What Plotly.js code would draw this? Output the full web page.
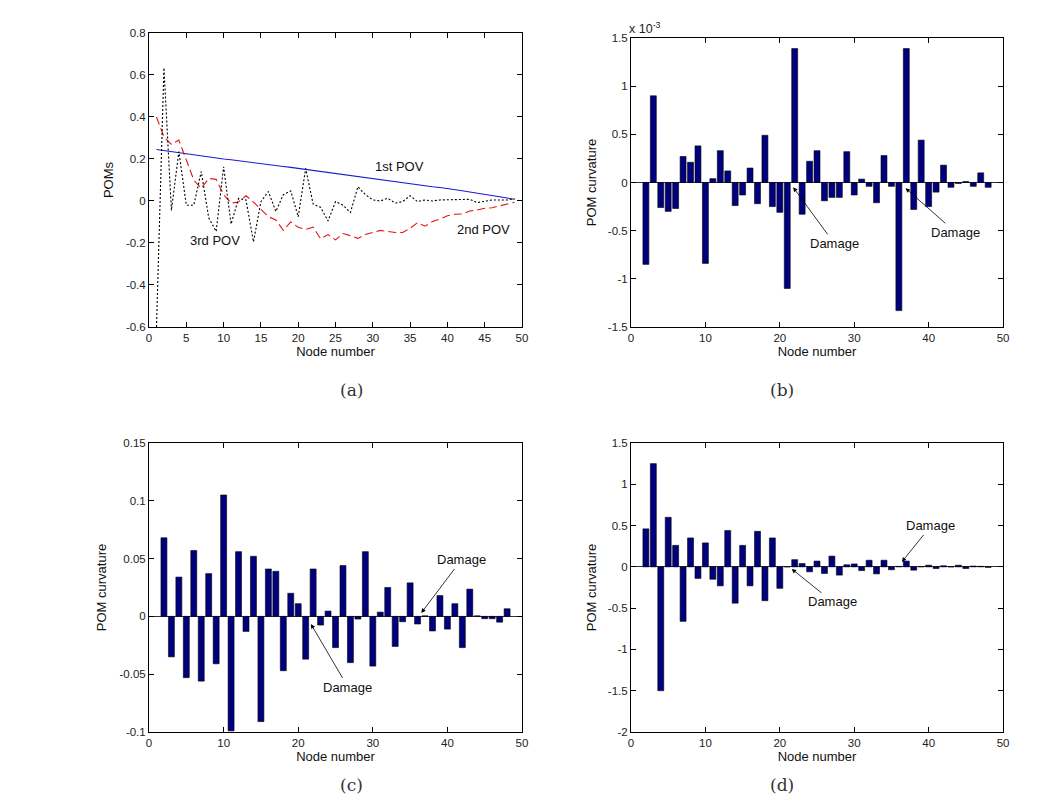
<!DOCTYPE html>
<html>
<head>
<meta charset="utf-8">
<script src="https://cdn.plot.ly/plotly-3.0.1.min.js"></script>
<style>html,body{margin:0;padding:0;background:#fff;}#chart{width:1048px;height:810px;}</style>
</head>
<body>
<div id="chart"></div>
<script>
// ---------- Panel (a): POMs ----------
const nodesA = [1,2,3,4,5,6,7,8,9,10,11,12,13,14,15,16,17,18,19,20,21,22,23,24,25,26,27,28,29,30,31,32,33,34,35,36,37,38,39,40,41,42,43,44,45,46,47,48,49];
const pov1 = [0.245,0.240,0.235,0.228,0.222,0.218,0.214,0.209,0.205,0.200,0.196,0.191,0.187,0.182,0.178,0.173,0.169,0.164,0.160,0.155,0.150,0.145,0.140,0.135,0.130,0.126,0.121,0.117,0.112,0.108,0.103,0.097,0.092,0.086,0.081,0.077,0.073,0.068,0.064,0.060,0.054,0.049,0.043,0.038,0.032,0.026,0.020,0.014,0.008];
const pov2 = [0.40,0.305,0.27,0.29,0.195,0.10,0.06,0.107,0.103,0.03,-0.01,-0.005,0.025,-0.005,-0.04,-0.075,-0.09,-0.14,-0.10,-0.125,-0.135,-0.125,-0.18,-0.16,-0.185,-0.155,-0.165,-0.178,-0.16,-0.15,-0.14,-0.145,-0.15,-0.15,-0.13,-0.103,-0.12,-0.098,-0.086,-0.07,-0.063,-0.062,-0.048,-0.043,-0.035,-0.032,-0.024,-0.014,-0.006];
const pov3 = [-0.6,0.634,-0.045,0.235,-0.02,-0.02,0.14,-0.08,-0.145,0.163,-0.11,0.012,0.005,-0.195,-0.003,0.045,-0.05,0.03,0.048,-0.075,0.155,-0.015,-0.03,-0.095,-0.003,-0.02,-0.055,0.068,0.03,0.005,0,0.013,-0.01,-0.003,0.025,-0.003,0.005,0,0.005,0.005,0.005,0.005,0.008,-0.008,0,0.005,0.005,0.005,0.01];

// ---------- Bar panels: nodes 2..48 ----------
const nodesBar = [2,3,4,5,6,7,8,9,10,11,12,13,14,15,16,17,18,19,20,21,22,23,24,25,26,27,28,29,30,31,32,33,34,35,36,37,38,39,40,41,42,43,44,45,46,47,48];
// (b) values in units of 1e-3
const curvB = [-0.85,0.9,-0.26,-0.3,-0.27,0.27,0.21,0.38,-0.84,0.04,0.33,0.12,-0.24,-0.13,0.15,-0.22,0.49,-0.25,-0.31,-1.1,1.39,-0.33,0.22,0.33,-0.19,-0.155,-0.155,0.32,-0.13,0.035,-0.04,-0.21,0.28,-0.04,-1.33,1.39,-0.28,0.44,-0.25,-0.1,0.18,-0.05,-0.01,0.01,-0.04,0.1,-0.05];
const curvC = [0.068,-0.035,0.034,-0.053,0.057,-0.056,0.037,-0.041,0.105,-0.099,0.056,-0.013,0.052,-0.091,0.041,0.039,-0.047,0.02,0.011,-0.037,0.041,-0.0075,0.0046,-0.027,0.044,-0.04,-0.0023,0.056,-0.043,0.0037,0.025,-0.026,-0.0046,0.029,-0.0066,0.0005,-0.0126,0.018,-0.011,0.011,-0.027,0.0236,0.0005,-0.002,-0.002,-0.005,0.0066];
const curvD = [0.46,1.25,-1.5,0.6,0.26,-0.66,0.35,-0.14,0.29,-0.15,-0.23,0.44,-0.44,0.26,-0.23,0.43,-0.41,0.35,-0.26,0,0.087,0.04,-0.06,0.07,-0.08,0.13,-0.1,0.025,0.035,-0.045,0.08,-0.085,0.08,-0.035,0.005,0.07,-0.04,0.003,0.02,-0.02,0.013,0,0.02,-0.02,0.01,0.006,-0.006];

// ---------- Tick labels ----------
const xTicksA = [0,5,10,15,20,25,30,35,40,45,50];
const xTicksBar = [0,10,20,30,40,50];
const yTicksA = [-0.6,-0.4,-0.2,0,0.2,0.4,0.6,0.8];
const yTextA = ['-0.6','-0.4','-0.2','0','0.2','0.4','0.6','0.8'];
const yTicksB = [-1.5,-1,-0.5,0,0.5,1,1.5];
const yTextB = ['-1.5','-1','-0.5','0','0.5','1','1.5'];
const yTicksC = [-0.1,-0.05,0,0.05,0.1,0.15];
const yTextC = ['-0.1','-0.05','0','0.05','0.1','0.15'];
const yTicksD = [-2,-1.5,-1,-0.5,0,0.5,1,1.5];
const yTextD = ['-2','-1.5','-1','-0.5','0','0.5','1','1.5'];

const lineLabels = ['1st POV','2nd POV','3rd POV'];
const captions = ['(a)','(b)','(c)','(d)'];
const xTitle = 'Node number';

const FONT = 'Liberation Sans, Arial, sans-serif';
const barColor = '#00007f';

function barTrace(y, xa, ya) {
  return {type:'bar', x:nodesBar, y:y, xaxis:xa, yaxis:ya, width:0.8,
    marker:{color:barColor, line:{color:'#000', width:0.6}}, showlegend:false, hoverinfo:'x+y'};
}

const traces = [
  {type:'scatter', mode:'lines', x:nodesA, y:pov1, xaxis:'x', yaxis:'y', name:lineLabels[0],
   line:{color:'#1a1ad0', width:1.1}, showlegend:false},
  {type:'scatter', mode:'lines', x:nodesA, y:pov2, xaxis:'x', yaxis:'y', name:lineLabels[1],
   line:{color:'#e01818', width:1.1, dash:'8px,4px'}, showlegend:false},
  {type:'scatter', mode:'lines', x:nodesA, y:pov3, xaxis:'x', yaxis:'y', name:lineLabels[2],
   line:{color:'#000', width:1.1, dash:'2px,2px'}, showlegend:false},
  barTrace(curvB, 'x2', 'y2'),
  barTrace(curvC, 'x3', 'y3'),
  barTrace(curvD, 'x4', 'y4')
];

const tickFont = {family:FONT, size:11.5, color:'#222'};
const titleFont = {family:FONT, size:13, color:'#111'};

function xax(domain, anchor, tv) {
  return {domain:domain, anchor:anchor, range:[0,50], tickvals:tv, ticktext:tv.map(String),
    ticks:'inside', ticklen:5, tickcolor:'#000', showline:true, linecolor:'#000', linewidth:1,
    mirror:'ticks', showgrid:false, zeroline:false, tickfont:tickFont,
    title:{text:xTitle, font:titleFont, standoff:3}};
}
function yax(domain, anchor, range, tv, tt, title, zl, standoff) {
  return {domain:domain, anchor:anchor, range:range, tickvals:tv, ticktext:tt,
    ticks:'inside', ticklen:5, tickcolor:'#000', showline:true, linecolor:'#000', linewidth:1,
    mirror:'ticks', showgrid:false, zeroline:zl, zerolinecolor:'#333', zerolinewidth:1,
    tickfont:tickFont, title:{text:title, font:titleFont, standoff:standoff}};
}

const dxL = [0.1422, 0.4981], dxR = [0.6021, 0.9571];
const dyT_a = [0.5963, 0.9593], dyT_b = [0.5963, 0.9531], dyB = [0.0963, 0.4531];

function dmg(xa, ya, x, y, ax, ay) {
  return {xref:xa, yref:ya, x:x, y:y, ax:ax, ay:ay, text:'Damage', showarrow:true,
    arrowhead:2, arrowsize:1.1, arrowwidth:0.8, arrowcolor:'#000', standoff:0,
    font:{family:FONT, size:13, color:'#111'}};
}
function cap(x, y, t) {
  return {xref:'paper', yref:'paper', x:x, y:y, text:t, showarrow:false,
    font:{family:'DejaVu Serif, Liberation Serif, serif', size:17, color:'#333'}};
}

const layout = {
  width:1048, height:810, margin:{l:0, r:0, t:0, b:0},
  paper_bgcolor:'#fff', plot_bgcolor:'#fff', showlegend:false, bargap:0.2,
  xaxis: xax(dxL, 'y', xTicksA),
  yaxis: yax(dyT_a, 'x', [-0.6,0.8], yTicksA, yTextA, 'POMs', false, 9),
  xaxis2: xax(dxR, 'y2', xTicksBar),
  yaxis2: yax(dyT_b, 'x2', [-1.5,1.5], yTicksB, yTextB, 'POM curvature', true, 8),
  xaxis3: xax(dxL, 'y3', xTicksBar),
  yaxis3: yax(dyB, 'x3', [-0.1,0.15], yTicksC, yTextC, 'POM curvature', true, 9),
  xaxis4: xax(dxR, 'y4', xTicksBar),
  yaxis4: yax(dyB, 'x4', [-2,1.5], yTicksD, yTextD, 'POM curvature', true, 8),
  annotations: [
    {xref:'x', yref:'y', x:33.6, y:0.162, text:lineLabels[0], showarrow:false, font:{family:FONT, size:13, color:'#111'}},
    {xref:'x', yref:'y', x:44.8, y:-0.138, text:lineLabels[1], showarrow:false, font:{family:FONT, size:13, color:'#111'}},
    {xref:'x', yref:'y', x:8.85, y:-0.186, text:lineLabels[2], showarrow:false, font:{family:FONT, size:13, color:'#111'}},
    {xref:'x2 domain', yref:'y2 domain', x:0, y:1, xanchor:'left', yanchor:'bottom', xshift:-4, yshift:0,
     text:'x 10<sup>-3</sup>', showarrow:false, font:{family:FONT, size:12.5, color:'#222'}},
    dmg('x2','y2', 21.8, -0.05, 41, 56),
    dmg('x2','y2', 36.9, -0.06, 50, 44),
    dmg('x3','y3', 36.5, 0.003, 40, -53),
    dmg('x3','y3', 21.7, -0.0066, 37, 63),
    dmg('x4','y4', 36.4, 0.06, 29, -36),
    dmg('x4','y4', 21.6, -0.025, 41, 33),
    cap(0.3225, 0.5185, captions[0]),
    cap(0.7595, 0.5185, captions[1]),
    cap(0.3225, 0.016, captions[2]),
    cap(0.7595, 0.016, captions[3])
  ]
};

Plotly.newPlot('chart', traces, layout, {staticPlot:true, displayModeBar:false});
</script>
</body>
</html>
